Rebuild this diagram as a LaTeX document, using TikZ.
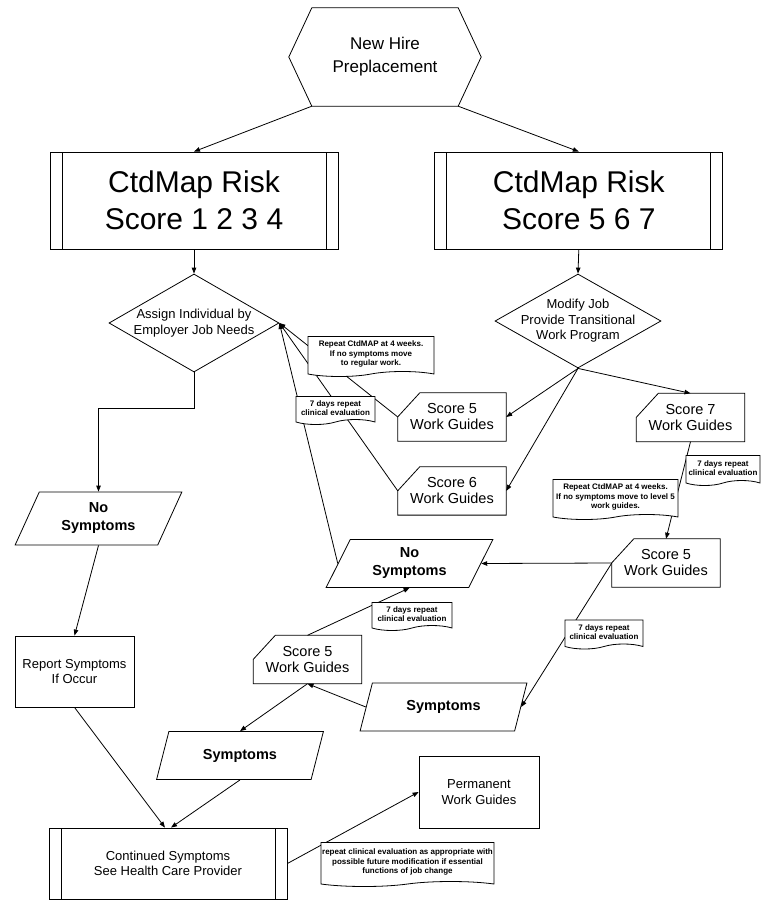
\documentclass[tikz,border=0pt]{standalone}
\usepackage{fontspec}
\setmainfont{Liberation Sans}
\usepackage{tikz}
\usetikzlibrary{
  arrows.meta,
  positioning,
  shapes.geometric,
  shapes.symbols
}

\tikzset{
  conn/.style={-{Triangle[length=6pt,width=4.5pt]}, line width=0.8pt},
  process/.style={draw, line width=0.8pt, minimum width=288pt, minimum height=97pt, inner sep=0pt,
    font=\fontsize{30}{37}\selectfont,
    path picture={\draw[line width=0.8pt]
      ([xshift=12pt]path picture bounding box.north west) -- ([xshift=12pt]path picture bounding box.south west)
      ([xshift=-12pt]path picture bounding box.north east) -- ([xshift=-12pt]path picture bounding box.south east);}},
  decision/.style={diamond, draw, line width=0.8pt, aspect=1.75, inner sep=0pt, font=\fontsize{13}{15.5}\selectfont},
  card/.style={minimum width=108pt, minimum height=48pt, inner sep=0pt, font=\fontsize{14.5}{16}\selectfont},
  io/.style={trapezium, trapezium left angle=64, trapezium right angle=116, trapezium stretches=true,
    draw, line width=0.8pt, minimum width=167pt, minimum height=48pt, inner sep=0pt,
    font=\bfseries\fontsize{14.5}{18}\selectfont},
  box/.style={draw, line width=0.8pt, inner sep=0pt, font=\fontsize{13}{15.5}\selectfont},
  note/.style={tape, tape bend top=none, tape bend height=5pt, draw, fill=white, line width=0.8pt,
    inner sep=1pt, font=\bfseries\fontsize{8}{9.5}\selectfont}
}

\begin{document}
\begin{tikzpicture}[x=1pt, y=-1pt, every node/.style={align=center}]
  \useasboundingbox (0,0) rectangle (761,900);

  \node[minimum width=146pt, minimum height=98pt, font=\fontsize{17}{23}\selectfont] (hire) at (385,57) {New Hire\\Preplacement};
  \draw[line width=0.8pt] (hire.north west) -- (hire.north east) -- ([xshift=23pt]hire.east) -- (hire.south east)
    -- (hire.south west) -- ([xshift=-23pt]hire.west) -- cycle;

  \node[process] (lo) at (194,200.5) {CtdMap Risk\\Score 1 2 3 4};
  \node[process, right=96pt of lo] (hi) {CtdMap Risk\\Score 5 6 7};

  \node[decision, minimum width=170pt, minimum height=98pt] (assign) at (194,323) {Assign Individual by\\Employer Job Needs};
  \node[decision, minimum width=166pt, minimum height=94pt, inner xsep=-2pt, inner ysep=-8pt] (modify) at (578,321) {Modify Job\\Provide Transitional\\Work Program};

  \node[card] (s5a) at (452,417) {Score 5\\Work Guides};
  \node[card, below=25.5pt of s5a] (s6) {Score 6\\Work Guides};
  \node[card] (s7) at (690.5,417.5) {Score 7\\Work Guides};
  \node[card] (s5b) at (666,563) {Score 5\\Work Guides};
  \node[card] (s5c) at (307.5,659.5) {Score 5\\Work Guides};
  \foreach \n in {s5a,s6,s7,s5b,s5c}
    \draw[line width=0.8pt] ([yshift=-24pt]\n.north west) -- ([xshift=22pt]\n.north west) -- (\n.north east)
      -- (\n.south east) -- (\n.south west) -- cycle;

  \node[io, minimum height=53pt] (nsl) at (98.5,518.5) {No\\Symptoms};
  \node[io] (nsm) at (409.5,563.5) {No\\Symptoms};
  \node[io] (symr) at (443.5,707) {Symptoms};
  \node[io] (syml) at (240,755.5) {Symptoms};

  \node[box, minimum width=119pt, minimum height=71pt] (report) at (74.5,671.5) {Report Symptoms\\If Occur};
  \node[process, minimum width=238pt, minimum height=71pt, font=\fontsize{13}{15}\selectfont] (contd) at (168,863.5) {Continued Symptoms\\See Health Care Provider};
  \node[box, minimum width=120pt, minimum height=72pt] (perm) at (479,792) {Permanent\\Work Guides};

  \draw[conn] (hire.south west) -- (lo.north);
  \draw[conn] (hire.south east) -- (hi.north);
  \draw[conn] (lo.south) -- (assign.north);
  \draw[conn] (hi.south) -- (modify.north);
  \draw[conn] (assign.south) -- ++(0,36) -| (nsl.north);
  \draw[conn] (nsl.south) -- (report.north);
  \draw[conn] (report.south) -- ([xshift=-3pt]contd.north);
  \draw[conn] (syml.south) -- ([xshift=3pt]contd.north);
  \draw[conn] (contd.east) -- (perm.west);
  \draw[conn] (modify.south) -- (s5a.east);
  \draw[conn] (modify.south) -- (s6.east);
  \draw[conn] (modify.south) -- (s7.north);
  \draw[conn] (s5a.west) -- (assign.east);
  \draw[conn] (s6.west) -- (assign.east);
  \draw[conn] (nsm.left side) -- (assign.east);
  \draw[conn] (s7.south) -- (s5b.north);
  \draw[conn] (s5b.west) -- (nsm.right side);
  \draw[conn] (s5b.west) -- (symr.right side);
  \draw[conn] (symr.left side) -- (s5c.south);
  \draw[conn] (s5c.north) -- (nsm.south);
  \draw[conn] (s5c.south) -- (syml.north);

  \node[note, minimum width=126pt, minimum height=40pt] (n1) at (371,354) {Repeat CtdMAP at 4 weeks.\\If no symptoms move\\to regular work.};
  \node[note, minimum width=79pt, minimum height=28pt] (n2) at (335.5,408) {7 days repeat\\clinical evaluation};
  \node[note, minimum width=74pt, minimum height=30pt] (n3) at (723,468) {7 days repeat\\clinical evaluation};
  \node[note, minimum width=125pt, minimum height=40pt] (n4) at (615.5,497) {Repeat CtdMAP at 4 weeks.\\If no symptoms move to level 5\\work guides.};
  \node[note, minimum width=80pt, minimum height=28pt] (n5) at (412,614) {7 days repeat\\clinical evaluation};
  \node[note, minimum width=78pt, minimum height=29pt] (n6) at (604,632) {7 days repeat\\clinical evaluation};
  \node[note, minimum width=173pt, minimum height=44pt] (n7) at (407.5,862) {repeat clinical evaluation as appropriate with\\possible future modification if essential\\functions of job change};
\end{tikzpicture}
\end{document}
